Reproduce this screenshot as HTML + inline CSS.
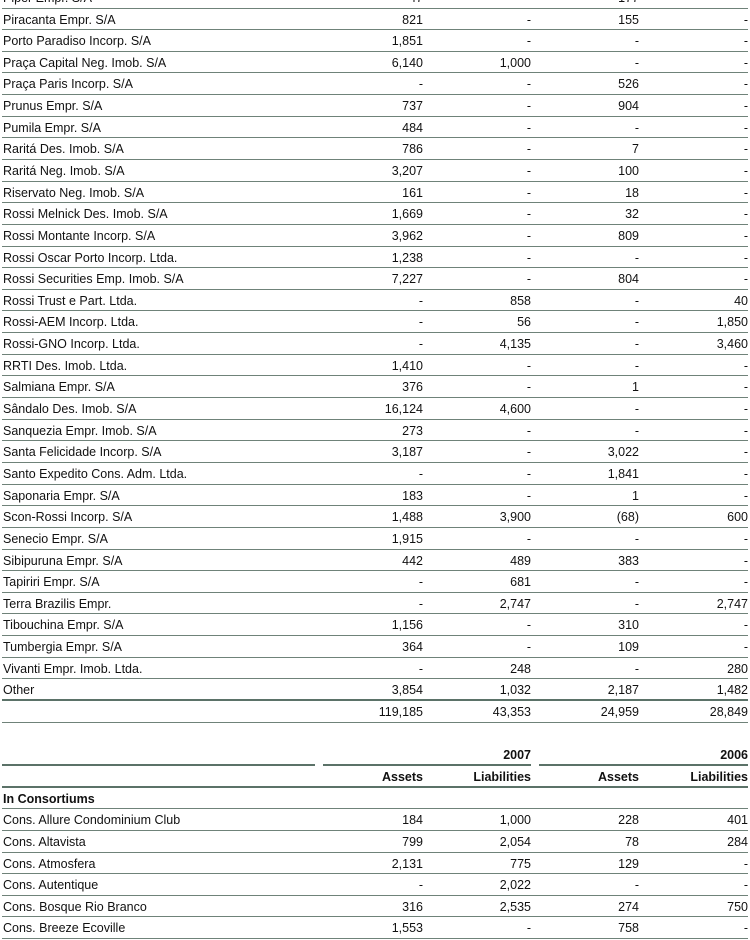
<!DOCTYPE html>
<html><head><meta charset="utf-8"><style>
body{margin:0;width:750px;height:940px;overflow:hidden;background:#fff;font-family:"Liberation Sans",sans-serif;font-size:12.5px;color:#111;position:relative}
.t{position:absolute;left:2px;width:746px}
.r{height:21.65px;box-sizing:border-box;border-bottom:1px solid #6f8279;position:relative;line-height:23px}
.r span{position:absolute;top:0}
.n{left:1px}
.c1{right:325px}.c2{right:217px}.c3{right:109px}.c4{right:0}
.thick{border-bottom:2px solid #5b7268}
.b{font-weight:bold}
.seg{position:absolute;height:2px;background:#5b7268}
</style></head><body>
<div class="t" style="top:-13.15px">
<div class="r"><span class="n">Piper Empr. S/A</span><span class="c1">47</span><span class="c2">-</span><span class="c3">177</span><span class="c4">-</span></div>
<div class="r"><span class="n">Piracanta Empr. S/A</span><span class="c1">821</span><span class="c2">-</span><span class="c3">155</span><span class="c4">-</span></div>
<div class="r"><span class="n">Porto Paradiso Incorp. S/A</span><span class="c1">1,851</span><span class="c2">-</span><span class="c3">-</span><span class="c4">-</span></div>
<div class="r"><span class="n">Praça Capital Neg. Imob. S/A</span><span class="c1">6,140</span><span class="c2">1,000</span><span class="c3">-</span><span class="c4">-</span></div>
<div class="r"><span class="n">Praça Paris Incorp. S/A</span><span class="c1">-</span><span class="c2">-</span><span class="c3">526</span><span class="c4">-</span></div>
<div class="r"><span class="n">Prunus Empr. S/A</span><span class="c1">737</span><span class="c2">-</span><span class="c3">904</span><span class="c4">-</span></div>
<div class="r"><span class="n">Pumila Empr. S/A</span><span class="c1">484</span><span class="c2">-</span><span class="c3">-</span><span class="c4">-</span></div>
<div class="r"><span class="n">Raritá Des. Imob. S/A</span><span class="c1">786</span><span class="c2">-</span><span class="c3">7</span><span class="c4">-</span></div>
<div class="r"><span class="n">Raritá Neg. Imob. S/A</span><span class="c1">3,207</span><span class="c2">-</span><span class="c3">100</span><span class="c4">-</span></div>
<div class="r"><span class="n">Riservato Neg. Imob. S/A</span><span class="c1">161</span><span class="c2">-</span><span class="c3">18</span><span class="c4">-</span></div>
<div class="r"><span class="n">Rossi Melnick Des. Imob. S/A</span><span class="c1">1,669</span><span class="c2">-</span><span class="c3">32</span><span class="c4">-</span></div>
<div class="r"><span class="n">Rossi Montante Incorp. S/A</span><span class="c1">3,962</span><span class="c2">-</span><span class="c3">809</span><span class="c4">-</span></div>
<div class="r"><span class="n">Rossi Oscar Porto Incorp. Ltda.</span><span class="c1">1,238</span><span class="c2">-</span><span class="c3">-</span><span class="c4">-</span></div>
<div class="r"><span class="n">Rossi Securities Emp. Imob. S/A</span><span class="c1">7,227</span><span class="c2">-</span><span class="c3">804</span><span class="c4">-</span></div>
<div class="r"><span class="n">Rossi Trust e Part. Ltda.</span><span class="c1">-</span><span class="c2">858</span><span class="c3">-</span><span class="c4">40</span></div>
<div class="r"><span class="n">Rossi-AEM Incorp. Ltda.</span><span class="c1">-</span><span class="c2">56</span><span class="c3">-</span><span class="c4">1,850</span></div>
<div class="r"><span class="n">Rossi-GNO Incorp. Ltda.</span><span class="c1">-</span><span class="c2">4,135</span><span class="c3">-</span><span class="c4">3,460</span></div>
<div class="r"><span class="n">RRTI Des. Imob. Ltda.</span><span class="c1">1,410</span><span class="c2">-</span><span class="c3">-</span><span class="c4">-</span></div>
<div class="r"><span class="n">Salmiana Empr. S/A</span><span class="c1">376</span><span class="c2">-</span><span class="c3">1</span><span class="c4">-</span></div>
<div class="r"><span class="n">Sândalo Des. Imob. S/A</span><span class="c1">16,124</span><span class="c2">4,600</span><span class="c3">-</span><span class="c4">-</span></div>
<div class="r"><span class="n">Sanquezia Empr. Imob. S/A</span><span class="c1">273</span><span class="c2">-</span><span class="c3">-</span><span class="c4">-</span></div>
<div class="r"><span class="n">Santa Felicidade Incorp. S/A</span><span class="c1">3,187</span><span class="c2">-</span><span class="c3">3,022</span><span class="c4">-</span></div>
<div class="r"><span class="n">Santo Expedito Cons. Adm. Ltda.</span><span class="c1">-</span><span class="c2">-</span><span class="c3">1,841</span><span class="c4">-</span></div>
<div class="r"><span class="n">Saponaria Empr. S/A</span><span class="c1">183</span><span class="c2">-</span><span class="c3">1</span><span class="c4">-</span></div>
<div class="r"><span class="n">Scon-Rossi Incorp. S/A</span><span class="c1">1,488</span><span class="c2">3,900</span><span class="c3">(68)</span><span class="c4">600</span></div>
<div class="r"><span class="n">Senecio Empr. S/A</span><span class="c1">1,915</span><span class="c2">-</span><span class="c3">-</span><span class="c4">-</span></div>
<div class="r"><span class="n">Sibipuruna Empr. S/A</span><span class="c1">442</span><span class="c2">489</span><span class="c3">383</span><span class="c4">-</span></div>
<div class="r"><span class="n">Tapiriri Empr. S/A</span><span class="c1">-</span><span class="c2">681</span><span class="c3">-</span><span class="c4">-</span></div>
<div class="r"><span class="n">Terra Brazilis Empr.</span><span class="c1">-</span><span class="c2">2,747</span><span class="c3">-</span><span class="c4">2,747</span></div>
<div class="r"><span class="n">Tibouchina Empr. S/A</span><span class="c1">1,156</span><span class="c2">-</span><span class="c3">310</span><span class="c4">-</span></div>
<div class="r"><span class="n">Tumbergia Empr. S/A</span><span class="c1">364</span><span class="c2">-</span><span class="c3">109</span><span class="c4">-</span></div>
<div class="r"><span class="n">Vivanti Empr. Imob. Ltda.</span><span class="c1">-</span><span class="c2">248</span><span class="c3">-</span><span class="c4">280</span></div>
<div class="r thick"><span class="n">Other</span><span class="c1">3,854</span><span class="c2">1,032</span><span class="c3">2,187</span><span class="c4">1,482</span></div>
<div class="r"><span class="n"></span><span class="c1">119,185</span><span class="c2">43,353</span><span class="c3">24,959</span><span class="c4">28,849</span></div>
</div>

<div class="t" style="top:744px">
<div class="r b" style="border:none"><span class="c2">2007</span><span class="c4">2006</span></div>
</div>
<div class="seg" style="top:764px;left:2px;width:313px"></div>
<div class="seg" style="top:764px;left:323px;width:208px"></div>
<div class="seg" style="top:764px;left:539px;width:209px"></div>
<div class="t" style="top:766px">
<div class="r b thick" style="height:21.65px"><span class="c1">Assets</span><span class="c2">Liabilities</span><span class="c3">Assets</span><span class="c4">Liabilities</span></div>
<div class="r b"><span class="n">In Consortiums</span></div>
<div class="r"><span class="n">Cons. Allure Condominium Club</span><span class="c1">184</span><span class="c2">1,000</span><span class="c3">228</span><span class="c4">401</span></div>
<div class="r"><span class="n">Cons. Altavista</span><span class="c1">799</span><span class="c2">2,054</span><span class="c3">78</span><span class="c4">284</span></div>
<div class="r"><span class="n">Cons. Atmosfera</span><span class="c1">2,131</span><span class="c2">775</span><span class="c3">129</span><span class="c4">-</span></div>
<div class="r"><span class="n">Cons. Autentique</span><span class="c1">-</span><span class="c2">2,022</span><span class="c3">-</span><span class="c4">-</span></div>
<div class="r"><span class="n">Cons. Bosque Rio Branco</span><span class="c1">316</span><span class="c2">2,535</span><span class="c3">274</span><span class="c4">750</span></div>
<div class="r"><span class="n">Cons. Breeze Ecoville</span><span class="c1">1,553</span><span class="c2">-</span><span class="c3">758</span><span class="c4">-</span></div>
</div>
</body></html>
